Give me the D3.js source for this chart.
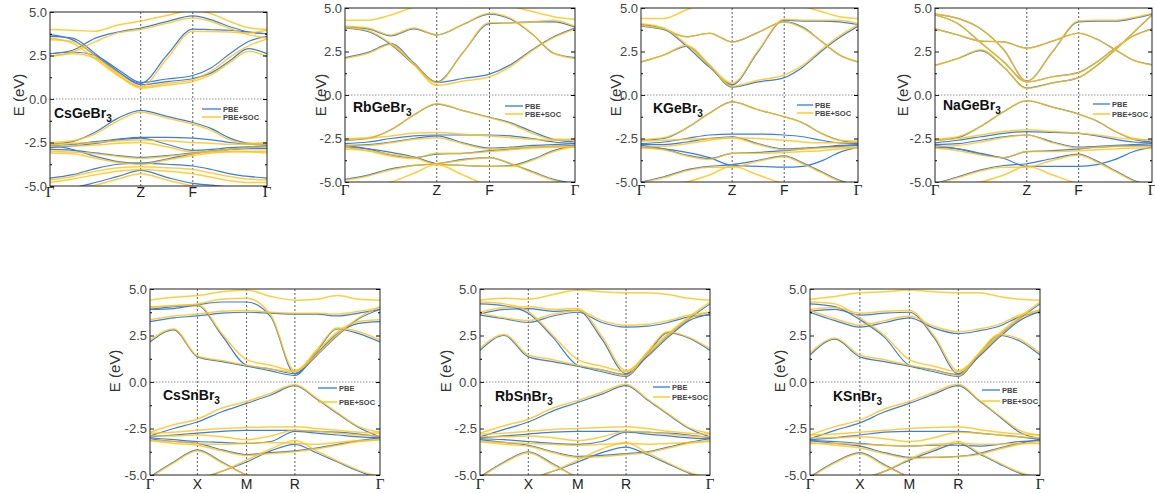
<!DOCTYPE html>
<html>
<head>
<meta charset="utf-8">
<script src="https://cdn.jsdelivr.net/npm/d3@7"></script>
<style>
  body { margin: 0; background: #fff; }
  svg { display: block; }
</style>
</head>
<body>
<div id="chart"></div>
<script>
// ---- axis / label data ----
const topLabels = ['Γ', 'Z', 'F', 'Γ'];
const bottomLabels = ['Γ', 'X', 'M', 'R', 'Γ'];
const yTickValues = [-5, -2.5, 0, 2.5, 5];
const yMinorValues = [-3.75, -1.25, 1.25, 3.75];
const seriesNames = ['PBE', 'PBE+SOC'];

// k-path positions of the high-symmetry points (fraction of path length)
const csGeBrPath = [0, 0.418, 0.658, 1];
const rbGeBrPath = [0, 0.399, 0.628, 1];
const kGeBrPath = [0, 0.420, 0.660, 1];
const naGeBrPath = [0, 0.423, 0.662, 1];
const csSnBrPath = [0, 0.206, 0.420, 0.630, 1];
const rbSnBrPath = [0, 0.210, 0.425, 0.635, 1];
const kSnBrPath = [0, 0.217, 0.432, 0.645, 1];

// where along each segment the band energies were read: [segment, fraction]
const topSamples = [[0, 0], [0, .25], [0, .5], [0, .75], [1, 0], [1, .5], [2, 0], [2, .25], [2, .5], [2, .75], [3, 0]];
const bottomSamples = [[0, 0], [0, .5], [1, 0], [1, .5], [2, 0], [2, .5], [3, 0], [3, .25], [3, .5], [3, .75], [4, 0]];

// ---- band energies (eV) ----
const csGeBrPBE = [
  [2.6, 2.7, 2.5, 1.7, 0.95, 1.15, 1.35, 1.8, 2.6, 3.3, 3.6],
  [2.6, 2.8, 3.5, 3.85, 4.08, 4.45, 4.78, 4.55, 4.15, 3.85, 3.75],
  [3.7, 3.4, 2.5, 1.55, 0.9, 2.5, 4.02, 3.98, 3.95, 3.85, 3.75],
  [3.6, 3.5, 2.6, 1.6, 0.82, 1.0, 1.18, 1.5, 2.2, 2.9, 2.6],
  [-2.6, -2.45, -1.9, -1.1, -0.65, -1.0, -1.35, -1.7, -2.25, -2.55, -2.6],
  [-2.7, -2.6, -2.45, -2.3, -2.2, -2.2, -2.25, -2.35, -2.5, -2.6, -2.65],
  [-2.8, -2.7, -2.55, -2.35, -2.25, -2.6, -2.95, -2.9, -2.8, -2.75, -2.75],
  [-2.9, -2.95, -3.1, -3.25, -3.35, -3.25, -3.1, -3.0, -2.9, -2.85, -2.85],
  [-2.65, -2.9, -3.3, -3.6, -3.7, -3.45, -3.15, -3.0, -2.9, -2.8, -2.7],
  [-4.55, -4.35, -4.0, -3.75, -3.68, -3.75, -3.85, -4.05, -4.3, -4.45, -4.55],
  [-5.2, -5.1, -4.8, -4.45, -4.1, -4.5, -4.85, -4.95, -5.05, -5.1, -5.2]
];
const csGeBrSOC = [
  [2.45, 2.6, 2.35, 1.5, 0.7, 0.9, 1.1, 1.6, 2.4, 3.05, 3.45],
  [2.45, 2.7, 3.3, 3.8, 4.0, 4.35, 4.65, 4.45, 4.05, 3.7, 3.5],
  [3.5, 3.2, 2.3, 1.35, 0.7, 2.3, 3.9, 3.88, 3.85, 3.8, 3.95],
  [3.4, 3.3, 2.45, 1.4, 0.62, 0.8, 1.0, 1.4, 2.1, 2.75, 2.45],
  [4.0, 3.95, 3.9, 4.25, 4.48, 4.8, 5.1, 4.9, 4.45, 4.1, 4.0],
  [-2.5, -2.4, -2.0, -1.25, -0.75, -1.1, -1.45, -1.8, -2.35, -2.55, -2.5],
  [-2.6, -2.55, -2.5, -2.4, -2.35, -2.4, -2.5, -2.55, -2.6, -2.6, -2.6],
  [-2.7, -2.7, -2.65, -2.55, -2.5, -2.75, -3.05, -3.0, -2.9, -2.8, -2.75],
  [-3.0, -3.05, -3.15, -3.3, -3.4, -3.3, -3.15, -3.05, -3.0, -3.0, -3.0],
  [-3.1, -3.15, -3.4, -3.65, -3.75, -3.5, -3.25, -3.1, -3.05, -3.05, -3.1],
  [-4.65, -4.45, -4.15, -3.95, -3.9, -3.95, -4.05, -4.25, -4.45, -4.6, -4.65],
  [-4.8, -4.6, -4.35, -4.15, -4.05, -4.15, -4.3, -4.5, -4.7, -4.8, -4.8],
  [-5.2, -5.1, -4.95, -4.6, -4.3, -4.65, -5.0, -5.1, -5.2, -5.2, -5.2]
];

const rbGeBrPBE = [
  [2.15, 2.45, 2.95, 1.85, 0.72, 0.95, 1.2, 1.75, 2.6, 3.35, 3.85],
  [3.9, 3.8, 3.4, 3.8, 3.45, 4.05, 4.65, 4.35, 3.5, 2.4, 2.15],
  [3.85, 3.65, 2.9, 1.75, 0.75, 2.45, 4.1, 4.15, 4.2, 4.2, 3.9],
  [-2.6, -2.5, -2.0, -1.15, -0.52, -0.9, -1.28, -1.6, -2.1, -2.55, -2.7],
  [-2.8, -2.7, -2.5, -2.35, -2.3, -2.3, -2.3, -2.35, -2.5, -2.7, -2.8],
  [-2.9, -2.85, -2.7, -2.5, -2.35, -2.75, -3.05, -3.0, -2.9, -2.85, -2.8],
  [-2.9, -3.1, -3.45, -3.6, -3.4, -3.35, -3.2, -3.1, -3.0, -2.95, -2.9],
  [-4.85, -4.6, -4.25, -4.05, -3.95, -3.7, -3.6, -3.95, -4.4, -4.85, -5.1],
  [-3.0, -3.1, -3.3, -3.55, -3.95, -4.05, -4.1, -4.05, -3.7, -3.2, -2.9]
];
const rbGeBrSOC = [
  [2.1, 2.4, 2.9, 1.75, 0.55, 0.8, 1.05, 1.65, 2.55, 3.3, 3.8],
  [3.95, 3.85, 3.45, 3.85, 3.45, 4.05, 4.7, 4.4, 3.5, 2.4, 2.1],
  [3.9, 3.7, 2.95, 1.8, 0.7, 2.45, 4.15, 4.15, 4.2, 4.3, 3.95],
  [4.3, 4.3, 4.6, 5.05, 5.3, 5.3, 5.3, 5.1, 4.8, 4.5, 4.35],
  [-2.5, -2.45, -2.0, -1.15, -0.5, -0.9, -1.3, -1.65, -2.2, -2.55, -2.55],
  [-2.55, -2.5, -2.35, -2.2, -2.15, -2.25, -2.35, -2.45, -2.55, -2.6, -2.6],
  [-2.9, -2.9, -2.75, -2.55, -2.45, -2.8, -3.1, -3.05, -3.0, -2.95, -2.95],
  [-3.0, -3.2, -3.5, -3.65, -3.35, -3.35, -3.25, -3.15, -3.05, -3.0, -3.0],
  [-4.9, -4.65, -4.3, -4.05, -3.95, -3.75, -3.6, -3.95, -4.45, -4.9, -5.15],
  [-5.3, -5.2, -5.0, -4.5, -4.0, -4.6, -5.2, -5.3, -5.3, -5.3, -5.3],
  [-3.1, -3.2, -3.4, -3.6, -4.0, -4.05, -4.1, -4.1, -3.75, -3.25, -2.95]
];

const kGeBrPBE = [
  [1.9, 2.3, 2.8, 1.7, 0.45, 0.75, 1.0, 1.6, 2.5, 3.3, 3.95],
  [3.95, 3.75, 3.35, 3.55, 3.05, 3.6, 4.2, 3.9, 3.1, 2.3, 1.9],
  [4.05, 3.8, 2.8, 1.6, 0.6, 2.5, 4.3, 4.25, 4.25, 4.2, 4.05],
  [-2.6, -2.5, -1.9, -1.05, -0.4, -0.85, -1.25, -1.6, -2.2, -2.6, -2.75],
  [-2.8, -2.7, -2.5, -2.3, -2.25, -2.25, -2.3, -2.4, -2.6, -2.75, -2.8],
  [-2.85, -2.85, -2.7, -2.5, -2.4, -2.8, -3.1, -3.05, -3.0, -2.9, -2.85],
  [-2.9, -3.1, -3.45, -3.65, -3.35, -3.3, -3.2, -3.1, -3.0, -2.95, -2.9],
  [-5.0, -4.7, -4.3, -4.1, -4.0, -3.75, -3.5, -3.9, -4.4, -4.9, -5.2],
  [-3.0, -3.1, -3.3, -3.6, -4.05, -4.1, -4.15, -4.1, -3.8, -3.3, -3.0]
];
const kGeBrSOC = [
  [1.9, 2.3, 2.85, 1.75, 0.5, 0.85, 1.15, 1.7, 2.6, 3.4, 4.05],
  [4.0, 3.8, 3.35, 3.55, 3.05, 3.6, 4.2, 3.85, 3.1, 2.3, 1.9],
  [4.1, 3.85, 2.9, 1.7, 0.68, 2.55, 4.35, 4.3, 4.3, 4.3, 4.1],
  [4.4, 4.4, 4.9, 5.3, 5.3, 5.3, 5.3, 5.1, 4.8, 4.5, 4.4],
  [-2.55, -2.45, -1.9, -1.05, -0.4, -0.85, -1.25, -1.6, -2.2, -2.6, -2.65],
  [-2.65, -2.6, -2.55, -2.5, -2.45, -2.5, -2.6, -2.7, -2.75, -2.75, -2.7],
  [-3.0, -2.95, -2.8, -2.6, -2.45, -2.85, -3.15, -3.1, -3.05, -3.0, -3.0],
  [-3.05, -3.15, -3.5, -3.7, -3.35, -3.35, -3.3, -3.25, -3.2, -3.1, -3.05],
  [-5.05, -4.75, -4.35, -4.15, -4.15, -3.8, -3.55, -3.95, -4.45, -4.95, -5.25],
  [-5.3, -5.2, -5.0, -4.6, -4.1, -4.6, -5.1, -5.3, -5.3, -5.3, -5.3]
];

const naGeBrPBE = [
  [1.7, 2.1, 2.55, 1.6, 0.4, 0.7, 1.0, 1.7, 2.6, 3.6, 4.6],
  [3.8, 3.45, 3.1, 3.05, 2.7, 3.1, 3.55, 3.2, 2.6, 2.0, 1.75],
  [4.6, 4.1, 3.0, 1.9, 0.75, 1.05, 1.3, 1.9, 2.7, 3.4, 3.8],
  [4.65, 4.4, 3.8, 2.6, 0.8, 2.5, 4.2, 4.25, 4.25, 4.4, 4.65],
  [-2.6, -2.45, -1.8, -0.95, -0.33, -0.7, -1.1, -1.5, -2.1, -2.55, -2.7],
  [-2.75, -2.6, -2.4, -2.2, -2.1, -2.15, -2.2, -2.35, -2.55, -2.7, -2.75],
  [-2.85, -2.8, -2.6, -2.4, -2.3, -2.7, -3.0, -2.95, -2.9, -2.85, -2.8],
  [-2.9, -3.1, -3.4, -3.6, -3.25, -3.2, -3.1, -3.0, -2.95, -2.9, -2.9],
  [-5.1, -4.7, -4.3, -4.05, -3.95, -3.65, -3.4, -3.8, -4.35, -4.9, -5.2],
  [-3.0, -3.1, -3.35, -3.65, -4.1, -4.1, -4.1, -4.0, -3.7, -3.25, -3.0]
];
const naGeBrSOC = [
  [1.7, 2.1, 2.6, 1.6, 0.38, 0.7, 1.0, 1.7, 2.6, 3.6, 4.6],
  [3.8, 3.45, 3.1, 3.05, 2.68, 3.1, 3.55, 3.2, 2.6, 2.0, 1.72],
  [4.62, 4.1, 3.0, 1.9, 0.75, 1.05, 1.28, 1.9, 2.7, 3.4, 3.78],
  [4.65, 4.4, 3.8, 2.6, 0.78, 2.5, 4.25, 4.3, 4.3, 4.45, 4.68],
  [-2.55, -2.4, -1.8, -0.95, -0.32, -0.7, -1.1, -1.5, -2.1, -2.5, -2.6],
  [-2.6, -2.5, -2.3, -2.1, -2.0, -2.1, -2.2, -2.3, -2.45, -2.55, -2.6],
  [-2.95, -2.9, -2.7, -2.45, -2.3, -2.75, -3.05, -3.0, -2.95, -2.95, -2.95],
  [-3.05, -3.2, -3.45, -3.6, -3.25, -3.25, -3.2, -3.15, -3.1, -3.05, -3.05],
  [-5.15, -4.75, -4.35, -4.15, -4.15, -3.75, -3.45, -3.85, -4.4, -4.95, -5.25],
  [-5.3, -5.2, -5.0, -4.6, -4.1, -4.6, -5.1, -5.3, -5.3, -5.3, -5.3]
];

const csSnBrPBE = [
  [2.15, 2.8, 1.35, 1.1, 0.85, 0.6, 0.35, 1.6, 2.85, 2.6, 2.15],
  [3.25, 3.45, 3.55, 3.7, 3.75, 3.7, 3.65, 3.65, 3.55, 3.7, 3.9],
  [3.9, 4.05, 4.1, 2.5, 0.9, 0.7, 0.45, 1.5, 2.6, 3.15, 3.25],
  [3.9, 3.95, 4.15, 4.3, 4.3, 3.5, 0.45, 1.4, 2.5, 3.4, 3.9],
  [-2.9, -2.5, -2.15, -1.6, -1.15, -0.7, -0.2, -0.9, -1.7, -2.45, -2.95],
  [-2.95, -2.85, -2.75, -2.65, -2.6, -2.6, -2.6, -2.65, -2.7, -2.8, -2.95],
  [-3.0, -3.1, -3.2, -3.25, -3.3, -3.2, -2.65, -2.75, -2.85, -2.95, -3.0],
  [-3.05, -3.2, -3.3, -3.65, -3.9, -3.8, -3.7, -3.55, -3.35, -3.15, -3.0],
  [-5.1, -4.3, -3.65, -4.3, -5.0, -5.3, -5.3, -5.3, -5.3, -5.3, -5.3],
  [-5.3, -5.3, -5.2, -4.8, -4.3, -3.7, -3.35, -3.8, -4.3, -4.8, -5.2]
];
const csSnBrSOC = [
  [2.25, 2.85, 1.4, 1.15, 0.9, 0.7, 0.55, 1.7, 2.9, 2.7, 2.25],
  [3.35, 3.55, 3.65, 3.8, 3.85, 3.75, 3.7, 3.7, 3.65, 3.8, 4.0],
  [4.0, 4.1, 4.15, 2.6, 1.2, 0.9, 0.6, 1.6, 2.7, 3.25, 3.35],
  [4.05, 4.1, 4.2, 4.45, 4.5, 3.6, 0.6, 1.45, 2.55, 3.45, 4.05],
  [4.4, 4.55, 4.65, 4.85, 4.95, 4.6, 4.4, 4.45, 4.65, 4.45, 4.4],
  [-2.7, -2.3, -2.0, -1.4, -1.05, -0.6, -0.15, -0.85, -1.65, -2.4, -2.7],
  [-2.75, -2.7, -2.6, -2.5, -2.45, -2.42, -2.4, -2.5, -2.6, -2.7, -2.75],
  [-3.15, -3.2, -3.3, -3.35, -3.3, -3.25, -3.3, -3.35, -3.25, -3.15, -3.1],
  [-3.15, -3.3, -3.4, -3.7, -3.95, -3.85, -3.75, -3.6, -3.4, -3.2, -3.1],
  [-5.15, -4.35, -3.7, -4.35, -5.0, -5.3, -5.3, -5.3, -5.3, -5.3, -5.3],
  [-5.3, -5.3, -5.2, -4.8, -4.2, -3.6, -3.15, -3.7, -4.25, -4.75, -5.1],
  [-2.9, -2.9, -2.85, -2.95, -3.1, -2.9, -2.6, -2.65, -2.75, -2.85, -2.9]
];

const rbSnBrPBE = [
  [1.7, 2.5, 1.35, 1.1, 0.85, 0.55, 0.3, 1.5, 2.65, 2.35, 1.7],
  [3.6, 3.4, 3.2, 3.55, 3.75, 3.2, 2.95, 3.0, 3.2, 3.5, 3.6],
  [4.2, 4.1, 3.7, 2.4, 0.9, 0.65, 0.4, 1.4, 2.5, 3.4, 4.2],
  [3.65, 3.9, 3.95, 3.8, 3.85, 2.3, 0.45, 1.35, 2.4, 3.3, 3.65],
  [-2.95, -2.55, -2.15, -1.55, -1.1, -0.65, -0.2, -0.95, -1.75, -2.5, -2.95],
  [-3.0, -2.9, -2.8, -2.7, -2.65, -2.65, -2.65, -2.7, -2.75, -2.85, -3.0],
  [-3.05, -3.1, -3.2, -3.3, -3.35, -3.2, -2.7, -2.8, -2.9, -3.0, -3.05],
  [-3.1, -3.25, -3.4, -3.75, -4.0, -3.95, -3.85, -3.75, -3.5, -3.25, -3.05],
  [-5.1, -4.3, -3.75, -4.4, -5.1, -5.3, -5.3, -5.3, -5.3, -5.3, -5.3],
  [-5.3, -5.3, -5.2, -4.8, -4.3, -3.8, -3.5, -3.9, -4.4, -4.9, -5.2]
];
const rbSnBrSOC = [
  [1.8, 2.55, 1.45, 1.2, 0.9, 0.65, 0.35, 1.6, 2.7, 2.4, 1.8],
  [3.7, 3.45, 3.3, 3.65, 3.85, 3.3, 3.05, 3.1, 3.3, 3.6, 3.75],
  [4.3, 4.2, 3.8, 2.5, 1.2, 0.85, 0.55, 1.55, 2.6, 3.5, 4.3],
  [3.75, 4.0, 4.05, 3.9, 3.95, 2.45, 0.6, 1.45, 2.5, 3.4, 3.75],
  [4.4, 4.5, 4.45, 4.7, 4.95, 4.85, 4.8, 4.8, 4.7, 4.5, 4.4],
  [-2.75, -2.35, -2.0, -1.4, -1.0, -0.55, -0.12, -0.9, -1.7, -2.45, -2.75],
  [-2.8, -2.75, -2.65, -2.55, -2.5, -2.45, -2.4, -2.5, -2.65, -2.75, -2.8],
  [-3.2, -3.25, -3.3, -3.35, -3.4, -3.35, -3.3, -3.35, -3.3, -3.25, -3.2],
  [-3.2, -3.35, -3.45, -3.8, -4.05, -4.0, -3.9, -3.8, -3.55, -3.3, -3.15],
  [-5.15, -4.35, -3.8, -4.45, -5.1, -5.3, -5.3, -5.3, -5.3, -5.3, -5.3],
  [-5.3, -5.3, -5.2, -4.8, -4.2, -3.6, -3.25, -3.8, -4.35, -4.85, -5.15],
  [-2.95, -2.95, -2.9, -3.0, -3.15, -2.95, -2.65, -2.7, -2.8, -2.9, -2.95]
];

const kSnBrPBE = [
  [1.45, 2.3, 1.35, 1.1, 0.85, 0.55, 0.3, 1.45, 2.5, 2.2, 1.45],
  [3.75, 3.3, 2.95, 3.2, 3.45, 2.9, 2.6, 2.75, 3.0, 3.5, 3.75],
  [4.2, 4.05, 3.35, 2.4, 0.9, 0.65, 0.4, 1.4, 2.5, 3.4, 4.2],
  [3.8, 3.9, 3.6, 3.7, 3.75, 2.4, 0.45, 1.35, 2.4, 3.3, 3.8],
  [-3.05, -2.6, -2.2, -1.6, -1.15, -0.65, -0.2, -1.0, -1.85, -2.7, -3.05],
  [-3.1, -3.0, -2.85, -2.7, -2.65, -2.65, -2.65, -2.75, -2.85, -2.95, -3.1],
  [-3.15, -3.2, -3.3, -3.4, -3.45, -3.4, -3.4, -3.45, -3.35, -3.2, -3.15],
  [-3.15, -3.3, -3.45, -3.8, -4.05, -4.05, -4.0, -3.85, -3.55, -3.3, -3.1],
  [-5.1, -4.3, -3.8, -4.45, -5.1, -5.3, -5.3, -5.3, -5.3, -5.3, -5.3],
  [-5.3, -5.3, -5.2, -4.8, -4.2, -3.7, -3.3, -3.85, -4.4, -4.9, -5.2]
];
const kSnBrSOC = [
  [1.55, 2.35, 1.45, 1.2, 0.9, 0.65, 0.35, 1.55, 2.55, 2.3, 1.55],
  [3.85, 3.4, 3.05, 3.3, 3.55, 3.0, 2.7, 2.85, 3.1, 3.6, 3.85],
  [4.3, 4.2, 3.45, 2.5, 1.2, 0.85, 0.55, 1.5, 2.6, 3.5, 4.3],
  [3.9, 4.0, 3.7, 3.8, 3.85, 2.5, 0.6, 1.45, 2.5, 3.4, 3.9],
  [4.45, 4.6, 4.8, 4.85, 4.95, 4.85, 4.8, 4.8, 4.6, 4.45, 4.4],
  [-2.85, -2.4, -2.05, -1.45, -1.05, -0.55, -0.12, -0.95, -1.8, -2.6, -2.85],
  [-2.85, -2.8, -2.7, -2.6, -2.5, -2.45, -2.4, -2.55, -2.7, -2.8, -2.85],
  [-3.3, -3.3, -3.35, -3.4, -3.45, -3.35, -3.3, -3.35, -3.35, -3.3, -3.3],
  [-3.25, -3.4, -3.55, -3.85, -4.1, -4.05, -4.0, -3.9, -3.6, -3.35, -3.2],
  [-5.15, -4.35, -3.85, -4.5, -5.1, -5.3, -5.3, -5.3, -5.3, -5.3, -5.3],
  [-5.3, -5.3, -5.2, -4.8, -4.15, -3.6, -3.2, -3.8, -4.35, -4.85, -5.15],
  [-3.0, -3.0, -2.95, -3.05, -3.2, -3.0, -2.7, -2.75, -2.85, -2.95, -3.0]
];

// ---- layout ----
const W = 1155, H = 493;
const colors = { pbe: '#3b7ce6', soc: '#ffc20e' };

const panels = [
  { id: 'csge', name: ['CsGeBr', '3'], path: csGeBrPath, labels: topLabels, samples: topSamples, pbe: csGeBrPBE, soc: csGeBrSOC,
    box: [50, 12, 217, 174], title: [54, 118], ylab: [19, 95], xlabY: 197, legend: [202, 109, 19, 8] },
  { id: 'rbge', name: ['RbGeBr', '3'], path: rbGeBrPath, labels: topLabels, samples: topSamples, pbe: rbGeBrPBE, soc: rbGeBrSOC,
    box: [345, 8, 230, 174], title: [353, 112], ylab: [321, 95], xlabY: 195, legend: [505, 106, 18, 8] },
  { id: 'kge', name: ['KGeBr', '3'], path: kGeBrPath, labels: topLabels, samples: topSamples, pbe: kGeBrPBE, soc: kGeBrSOC,
    box: [641, 8, 217, 174], title: [653, 113], ylab: [616, 95], xlabY: 195, legend: [797, 105, 16, 8] },
  { id: 'nage', name: ['NaGeBr', '3'], path: naGeBrPath, labels: topLabels, samples: topSamples, pbe: naGeBrPBE, soc: naGeBrSOC,
    box: [935, 8, 217, 174], title: [943, 110], ylab: [903, 95], xlabY: 195, legend: [1093, 104, 17, 10] },
  { id: 'cssn', name: ['CsSnBr', '3'], path: csSnBrPath, labels: bottomLabels, samples: bottomSamples, pbe: csSnBrPBE, soc: csSnBrSOC,
    box: [150, 289, 230, 186], title: [163, 400], ylab: [115, 371], xlabY: 489, legend: [318, 388, 19, 14] },
  { id: 'rbsn', name: ['RbSnBr', '3'], path: rbSnBrPath, labels: bottomLabels, samples: bottomSamples, pbe: rbSnBrPBE, soc: rbSnBrSOC,
    box: [480, 289, 230, 186], title: [495, 401], ylab: [446, 371], xlabY: 489, legend: [653, 387, 17, 10] },
  { id: 'ksn', name: ['KSnBr', '3'], path: kSnBrPath, labels: bottomLabels, samples: bottomSamples, pbe: kSnBrPBE, soc: kSnBrSOC,
    box: [810, 289, 230, 186], title: [833, 401], ylab: [780, 371], xlabY: 489, legend: [982, 390, 18, 11] }
];

const svg = d3.select('#chart')
  .append('svg')
  .attr('width', W)
  .attr('height', H)
  .style('font-family', 'Arial, "Liberation Sans", sans-serif');

function drawPanel(p) {
  const [bx, by, bw, bh] = p.box;
  const x = d3.scaleLinear().domain([0, 1]).range([bx, bx + bw]);
  const y = d3.scaleLinear().domain([-5, 5]).range([by + bh, by]);
  const g = svg.append('g').attr('class', 'panel ' + p.id);

  const clipId = 'clip-' + p.id;
  g.append('clipPath').attr('id', clipId)
    .append('rect').attr('x', bx).attr('y', by).attr('width', bw).attr('height', bh);

  const kAt = p.samples.map(([s, f]) =>
    p.path[s] + (s < p.path.length - 1 ? f * (p.path[s + 1] - p.path[s]) : 0));

  /* guide lines: Fermi level and high-symmetry points */
  g.append('line')
    .attr('x1', bx).attr('x2', bx + bw)
    .attr('y1', y(0)).attr('y2', y(0))
    .attr('stroke', '#777').attr('stroke-width', 0.8).attr('stroke-dasharray', '1.5,1.5');
  g.selectAll('.kline')
    .data(p.path.slice(1, -1))
    .join('line')
    .attr('class', 'kline')
    .attr('x1', d => x(d)).attr('x2', d => x(d))
    .attr('y1', by).attr('y2', by + bh)
    .attr('stroke', '#333').attr('stroke-width', 0.8).attr('stroke-dasharray', '2,2');

  /* bands */
  const line = d3.line()
    .x((d, i) => x(kAt[i]))
    .y(d => y(d))
    .curve(d3.curveMonotoneX);
  const bands = g.append('g').attr('clip-path', `url(#${clipId})`);
  bands.selectAll('.pbe')
    .data(p.pbe)
    .join('path')
    .attr('class', 'pbe')
    .attr('d', line)
    .attr('fill', 'none')
    .attr('stroke', colors.pbe)
    .attr('stroke-width', 1.2);
  bands.selectAll('.soc')
    .data(p.soc)
    .join('path')
    .attr('class', 'soc')
    .attr('d', line)
    .attr('fill', 'none')
    .attr('stroke', colors.soc)
    .attr('stroke-opacity', 0.8)
    .attr('stroke-width', 1.5);

  /* frame and axes */
  g.append('rect')
    .attr('x', bx).attr('y', by).attr('width', bw).attr('height', bh)
    .attr('fill', 'none').attr('stroke', '#222').attr('stroke-width', 1);

  const left = g.append('g')
    .attr('transform', `translate(${bx},0)`)
    .call(d3.axisLeft(y).tickValues(yTickValues).tickSize(-4).tickPadding(3)
      .tickFormat(d => d.toFixed(1)));
  left.select('.domain').remove();
  left.selectAll('text')
    .attr('font-size', 13)
    .attr('font-family', 'Arial, "Liberation Sans", sans-serif')
    .attr('fill', '#444');
  left.selectAll('line').attr('stroke', '#222');

  const leftMinor = g.append('g')
    .attr('transform', `translate(${bx},0)`)
    .call(d3.axisLeft(y).tickValues(yMinorValues).tickSize(-2).tickFormat(''));
  leftMinor.select('.domain').remove();

  const right = g.append('g')
    .attr('transform', `translate(${bx + bw},0)`)
    .call(d3.axisRight(y).tickValues(yTickValues).tickSize(-4).tickFormat(''));
  right.select('.domain').remove();
  const rightMinor = g.append('g')
    .attr('transform', `translate(${bx + bw},0)`)
    .call(d3.axisRight(y).tickValues(yMinorValues).tickSize(-2).tickFormat(''));
  rightMinor.select('.domain').remove();

  /* k labels */
  g.selectAll('.klabel')
    .data(p.path)
    .join('text')
    .attr('class', 'klabel')
    .attr('x', d => x(d))
    .attr('y', p.xlabY)
    .attr('text-anchor', 'middle')
    .attr('font-size', (d, i) => p.labels[i] === 'Γ' ? 15 : 14)
    .attr('font-family', (d, i) => p.labels[i] === 'Γ' ? '"Liberation Serif", serif' : 'Arial, "Liberation Sans", sans-serif')
    .attr('fill', '#222')
    .text((d, i) => p.labels[i]);

  /* y label */
  g.append('text')
    .attr('transform', `translate(${p.ylab[0]},${p.ylab[1]}) rotate(-90)`)
    .attr('text-anchor', 'middle')
    .attr('dy', '0.35em')
    .attr('font-size', 15)
    .attr('fill', '#333')
    .text('E (eV)');

  /* compound name */
  const t = g.append('text')
    .attr('x', p.title[0]).attr('y', p.title[1])
    .attr('font-size', 14).attr('font-weight', 'bold').attr('fill', '#111');
  t.append('tspan').text(p.name[0]);
  t.append('tspan').attr('font-size', 10).attr('dy', 4).text(p.name[1]);

  /* legend */
  const [lx, ly, len, gap] = p.legend;
  const leg = g.append('g');
  [colors.pbe, colors.soc].forEach((c, i) => {
    leg.append('line')
      .attr('x1', lx).attr('x2', lx + len)
      .attr('y1', ly + i * gap).attr('y2', ly + i * gap)
      .attr('stroke', c).attr('stroke-opacity', 0.75).attr('stroke-width', 1.8);
    leg.append('text')
      .attr('x', lx + len + 2).attr('y', ly + i * gap)
      .attr('dy', '0.35em')
      .attr('font-size', 7.5).attr('font-weight', 'bold').attr('fill', '#444')
      .text(seriesNames[i]);
  });
}

panels.forEach(drawPanel);
</script>
</body>
</html>
